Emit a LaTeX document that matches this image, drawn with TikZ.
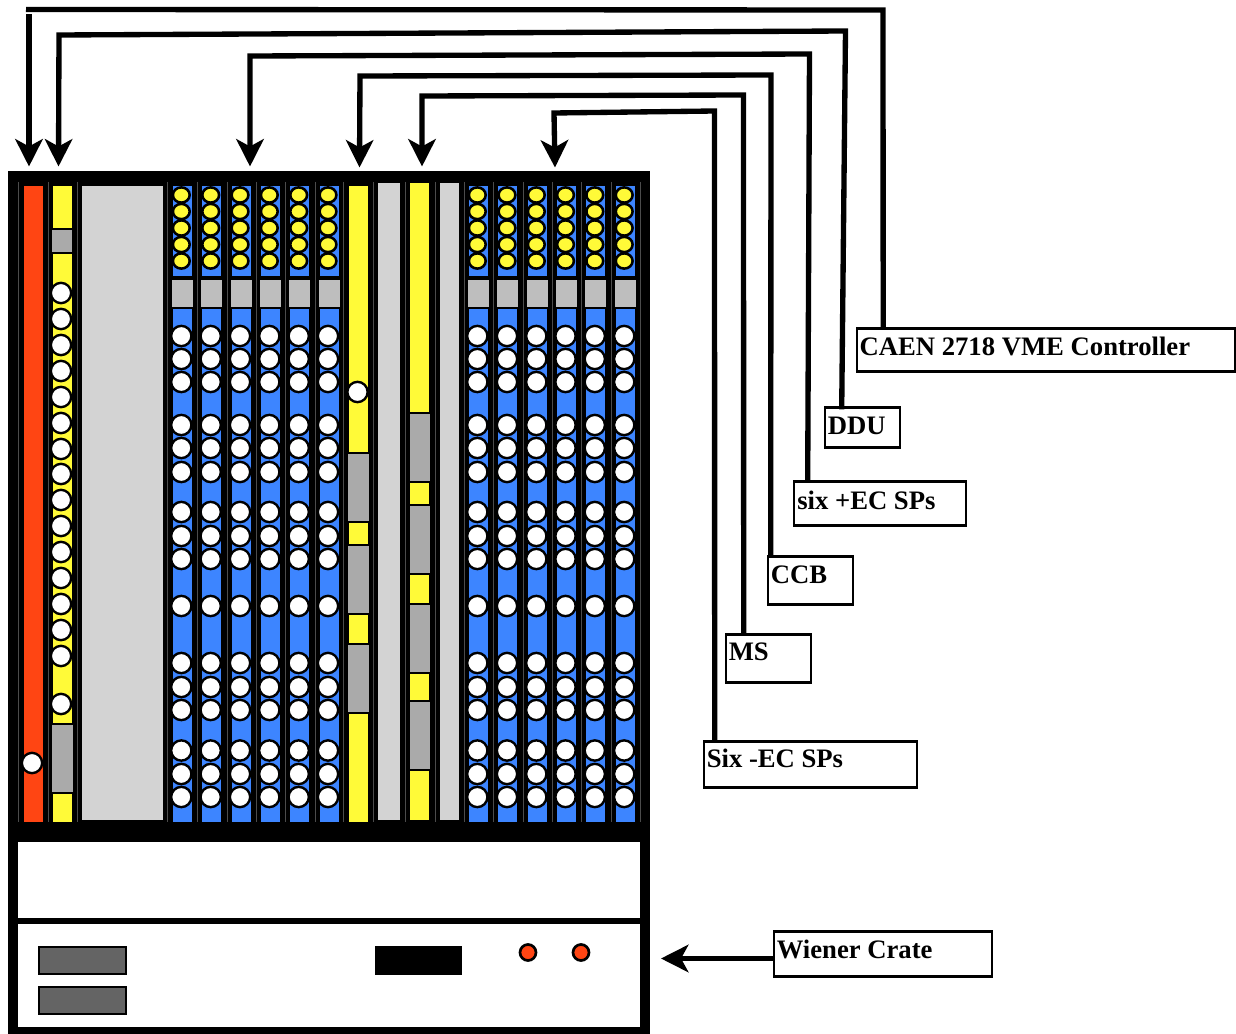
\documentclass[tikz,border=0pt]{standalone}
\usepackage{fontspec}
\setmainfont{Liberation Serif}
\usetikzlibrary{arrows.meta,calc}
\definecolor{cblue}{HTML}{3D85FF}
\definecolor{cred}{HTML}{FF4513}
\definecolor{cyel}{HTML}{FFFA38}
\definecolor{clight}{HTML}{D3D3D3}
\definecolor{cmid}{HTML}{BEBEBE}
\definecolor{cmod}{HTML}{AAAAAA}
\definecolor{cfront}{HTML}{646464}
\tikzset{
  cable/.style={line width=4pt,line join=miter,-{Stealth[length=20.5pt,width=20.5pt,inset=5.5pt]}},
  cablenoarrow/.style={line width=4pt,line join=miter},
  lbox/.style={draw=black,line width=1.7pt,fill=white,inner sep=0pt,anchor=north west},
  ltext/.style={anchor=base west,inner sep=0pt,font=\bfseries\fontsize{20pt}{22pt}\selectfont},
  white dot/.style={fill=white,draw=black,line width=1.8pt},
  yel dot/.style={fill=cyel,draw=black,line width=1.9pt},
  mod/.style={fill=cmod,draw=black,line width=0.8pt},
  head/.style={fill=cmid,draw=black,line width=0.6pt},
  divider/.style={draw=black!70,line width=0.4pt}
}
\begin{document}
\begin{tikzpicture}[x=0.75pt,y=-0.75pt]
\useasboundingbox (0,0) rectangle (1236,1034);
% crate body
\fill[black] (8,171) rectangle (650,1034);
\fill[white] (18,842) rectangle (640,918);
\fill[white] (18,924) rectangle (640,1027);
% dividers
\foreach \x in {18,48,77,167,197,227,256,285,315,343,373,405,435,464,493,523,552,581,611,640}
  \draw[divider] (\x,182) -- (\x,822);
% red card
\fill[cred] (23.5,186) rectangle (42.5,822);
% yellow card with modules
\fill[cyel] (53,186) rectangle (72,822);
\filldraw[mod] (51.5,229) rectangle (73,253);
\filldraw[mod] (51.5,724) rectangle (73.5,793);
\foreach \y in {293,319,345,371,397,423,449,474,500,526,552,578,604,630,656,704}
  \path[white dot] (61,\y) circle[radius=7.6pt];
\path[white dot] (32,763) circle[radius=7.6pt];
% wide blank
\fill[clight] (82,186) rectangle (163,820);
% blue cards
\foreach \xa/\xc in {173/181.3,202.3/210.7,231.7/240,261/269.3,290.3/298.7,319.7/328,469/477.3,498.3/507,527.7/536.3,557/565.5,586.3/594.8,615.7/624.2}{
  \fill[cblue] (\xa,186) rectangle ({\xa+19},276);
  \fill[cblue] (\xa,309) rectangle ({\xa+19},822);
  \filldraw[head] ({\xa-1.5},279) rectangle ({\xa+20.5},307);
  \foreach \y in {195,211.5,228,244.5,261}
    \path[yel dot] (\xc,\y) ellipse[x radius=6.3pt,y radius=5.7pt];
  \foreach \y in {336,359,382,425,448,472,512,536,559,606,663,687,710,750.5,774,797}
    \path[white dot] (\xc,\y) circle[radius=7.6pt];
}
% yellow card 3
\fill[cyel] (349,186) rectangle (368,822);
\filldraw[mod] (347.5,453) rectangle (369.5,522);
\filldraw[mod] (347.5,545) rectangle (369.5,614);
\filldraw[mod] (347.5,644) rectangle (369.5,713);
\path[white dot] (357.5,392) circle[radius=7.6pt];
\fill[clight] (378,183) rectangle (400,820);
% yellow card 4
\fill[cyel] (410,183) rectangle (429,820);
\filldraw[mod] (409,413) rectangle (431,482);
\filldraw[mod] (409,505) rectangle (431,574);
\filldraw[mod] (409,604) rectangle (431,673);
\filldraw[mod] (409,701) rectangle (431,770);
\fill[clight] (440,183) rectangle (459,820);
% front panel
\filldraw[fill=cfront,draw=black,line width=1.7pt] (39,947) rectangle (126,974);
\filldraw[fill=cfront,draw=black,line width=1.7pt] (39,987) rectangle (126,1014);
\fill[black] (375,946) rectangle (462,975);
\filldraw[fill=cred,draw=black,line width=2pt] (528,952.5) circle[radius=6pt];
\filldraw[fill=cred,draw=black,line width=2pt] (581,952.5) circle[radius=6pt];
% label boxes
\node[lbox,minimum width=283.5pt,minimum height=32.25pt] (caen) at (856.2,327.4) {};
\node[ltext] at (859.3,356) {CAEN 2718 VME Controller};
\node[lbox,minimum width=56.25pt,minimum height=30pt] (ddu) at (824.2,406.4) {};
\node[ltext] at (827.5,434.2) {DDU};
\node[lbox,minimum width=129pt,minimum height=33pt] (sixp) at (793.2,480.4) {};
\node[ltext] at (797,509) {six +EC SPs};
\node[lbox,minimum width=63.75pt,minimum height=36pt] (ccb) at (767.2,555.4) {};
\node[ltext] at (770.5,583) {CCB};
\node[lbox,minimum width=63.75pt,minimum height=36pt] (ms) at (725.2,633.4) {};
\node[ltext] at (728.5,660.8) {MS};
\node[lbox,minimum width=159.75pt,minimum height=34.5pt] (sixm) at (703.2,740.4) {};
\node[ltext] at (706.5,767.3) {Six -EC SPs};
\node[lbox,minimum width=163.5pt,minimum height=33.75pt] (wiener) at (773.2,930.4) {};
\node[ltext] at (776.5,958) {Wiener Crate};
% targets
\coordinate (t1) at (29,166.5);
\coordinate (t2) at (58.5,166.5);
\coordinate (t3) at (250,166.5);
\coordinate (t4) at (359.5,167.5);
\coordinate (t5) at (422,166.5);
\coordinate (t6) at (555,167.5);
\coordinate (t7) at (661,958.5);
% cables
\draw[cablenoarrow] ($(caen.north west)+(27,0)$) -- (883,10) -- (26,9.5);
\draw[cable] (29,14.5) -- (t1);
\draw[cable] ($(ddu.north west)+(17.5,3)$) -- (845.5,31) -- (59,35) -- (t2);
\draw[cable] ($(sixp.north west)+(14.5,0)$) -- (809.5,54) -- (250,56) -- (t3);
\draw[cable] ($(ccb.north west)+(3.5,0)$) -- (771,75) -- (360,76) -- (t4);
\draw[cable] ($(ms.north west)+(18.5,0)$) -- (743.5,95) -- (422,96) -- (t5);
\draw[cable] ($(sixm.north west)+(11.5,0)$) -- (714.5,111) -- (554,113) -- (t6);
\draw[cable] (wiener.west|-t7) -- (t7);
\end{tikzpicture}
\end{document}
